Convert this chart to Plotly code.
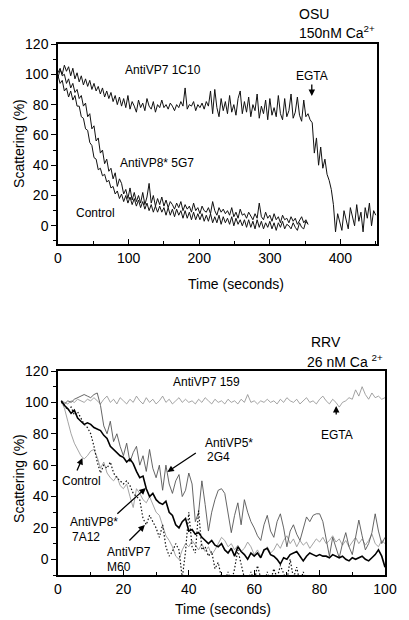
import plotly.graph_objects as go

# ---------------- DATA ----------------
# Top panel (OSU, 150 nM Ca2+): sampled every 3 s
osu_t_1c10 = list(range(0, 451, 3))
osu_1c10 = [98, 103, 100, 106, 102, 105, 99, 104, 97, 101,
            95, 99, 93, 97, 92, 96, 90, 94, 89, 92,
            87, 91, 85, 89, 84, 88, 82, 86, 80, 85,
            79, 84, 78, 86, 77, 82, 79, 75, 83, 78,
            81, 76, 84, 79, 77, 82, 75, 80, 78, 83,
            78, 80, 77, 81, 79, 76, 80, 78, 82, 79,
            91, 77, 80, 79, 82, 76, 80, 78, 81, 77,
            82, 79, 89, 74, 90, 78, 72, 84, 76, 82,
            74, 86, 75, 80, 73, 84, 89, 74, 82, 75,
            85, 72, 80, 76, 87, 71, 79, 74, 83, 70,
            84, 73, 78, 72, 86, 74, 70, 84, 72, 76,
            87, 71, 75, 85, 73, 69, 83, 72, 74, 70,
            68, 48, 58, 40, 52, 38, 44, 34, 30, 24,
            14, -4, 8, 2, -3, 10, 4, -2, 12, 6,
            0, 14, 3, 9, -4, 12, 5, 15, 0, 10,
            7]
osu_t_short = list(range(0, 355, 3))
osu_5g7 = [101, 104, 99, 100, 94, 97, 91, 94, 88, 90,
           84, 86, 79, 81, 72, 74, 64, 66, 56, 58,
           48, 50, 41, 44, 36, 38, 31, 35, 26, 31,
           28, 21, 24, 18, 25, 17, 22, 16, 20, 15,
           22, 14, 19, 28, 15, 20, 13, 18, 14, 19,
           13, 17, 12, 16, 14, 11, 15, 12, 16, 10,
           14, 11, 13, 9, 15, 10, 12, 8, 13, 10,
           9, 12, 8, 16, 10, 7, 12, 9, 11, 8,
           10, 7, 12, 6, 9, 5, 11, 7, 8, 5,
           9, 6, 4, 8, 5, 15, 6, 4, 9, 5,
           7, 3, 8, 4, 6, 2, 7, 4, 5, 2,
           6, 3, 5, 1, 4, 6, 2, 4, 1]
osu_control = [99, 94, 96, 89, 91, 85, 89, 83, 86, 79,
               79, 72, 71, 64, 63, 55, 53, 45, 44, 37,
               38, 33, 34, 29, 30, 25, 26, 21, 23, 18,
               21, 16, 20, 15, 19, 14, 18, 13, 17, 12,
               16, 11, 15, 10, 14, 9, 13, 9, 13, 9,
               12, 7, 12, 7, 11, 6, 11, 7, 10, 5,
               10, 5, 9, 4, 9, 4, 8, 4, 8, 3,
               7, 3, 8, 2, 6, 2, 7, 1, 6, 2,
               5, 1, 6, 0, 5, 1, 4, 0, 4, -1,
               4, -1, 3, -2, 4, -1, 3, -2, 2, -1,
               3, -2, 2, -3, 2, -1, 3, -2, 1, 0,
               -2, 2, -1, -3, 2, -1, -2, 3, 1]

# Bottom panel (RRV, 26 nM Ca2+): sampled every 1 s
rrv_t = list(range(1, 101))
rrv_159 = [101, 100, 99, 101, 100, 102, 101, 100, 102, 101,
           103, 101, 99, 102, 104, 100, 102, 99, 103, 101,
           99, 102, 100, 104, 101, 99, 103, 100, 102, 99,
           101, 104, 100, 102, 99, 101, 103, 100, 102, 100,
           101, 99, 102, 100, 103, 101, 99, 102, 100, 101,
           99, 102, 100, 101, 99, 102, 100, 105, 100, 101,
           99, 101, 100, 102, 100, 101, 99, 102, 100, 103,
           101, 100, 102, 99, 101, 103, 100, 101, 99, 102,
           104, 101, 99, 102, 100, 97, 100, 101, 103, 102,
           108, 104, 110, 105, 102, 106, 103, 104, 102, 103]
rrv_2g4 = [100, 99, 101, 100, 102, 103, 104, 105, 104, 103,
           105, 106, 98, 85, 80, 88, 75, 80, 72, 66,
           74, 62, 68, 72, 60, 66, 56, 70, 58, 52,
           60, 44, 60, 48, 42, 50, 54, 40, 44, 55,
           48, 24, 30, 50, 35, 18, 30, 38, 44, 45,
           42, 30, 17, 28, 36, 22, 38, 30, 24, 20,
           15, 12, 22, 28, 18, 14, 24, 29, 20, 8,
           18, 22, 16, 12, 20, 27, 24, 28, 29, 29,
           24, 12, 2, 14, 8, 1, 10, 17, 8, 3,
           14, 25, 15, 6, 10, 17, 29, 18, 10, 14]
rrv_7a12 = [101, 98, 96, 93, 95, 90, 88, 86, 87, 86,
            84, 83, 82, 79, 77, 72, 70, 68, 66, 65,
            62, 64, 61, 56, 52, 53, 45, 40, 42, 38,
            36, 35, 37, 30, 28, 22, 20, 24, 26, 18,
            19, 16, 17, 14, 12, 10, 12, 9, 8, 10,
            6, 4, 7, 2, 8, 5, 3, 0, 4, 2,
            4, 1, 6, 7, 3, 2, 0, -3, 1, 0,
            3, 4, 5, 2, -1, 2, 4, 3, 2, 3,
            2, 2, 1, 3, 2, 1, 2, 0, -1, 1,
            0, 1, 2, 0, -1, 1, 3, 6, 2, -5]
rrv_m60 = [100, 98, 95, 97, 92, 94, 90, 86, 84, 80,
           72, 62, 55, 60, 58, 62, 55, 52, 50, 48,
           50, 47, 42, 40, 38, 26, 22, 28, 24, 20,
           14, 22, 8, 2, 5, 10, 6, -12, 5, 30,
           8, 4, 31, 6, 8, 2, 5, -6, -2, -12,
           -14, -8, -15, -6, 6, -2, -12, -15, -8, -14,
           -4, -12, -16, -8, -14, -6, -12, -4, -9, -14,
           0, -12, -5, -15, -8, -14, -18, -18, -18, -18,
           -18, -18, -18, -18, -18, -18, -18, -18, -18, -18,
           -18, -18, -18, -18, -18, -18, -18, -18, -18, -18]
rrv_control = [101, 96, 88, 80, 74, 70, 66, 64, 66, 69,
               70, 65, 58, 62, 55, 52, 50, 53, 47, 45,
               48, 40, 33, 45, 42, 38, 36, 40, 35, 30,
               28, 22, 15, 12, 8, 2, 0, 6, 10, 8,
               12, 9, 6, 10, 5, 8, 3, 6, 10, 14,
               12, 8, 10, 6, 9, 5, 7, 11, 8, 3,
               6, 2, 5, 8, 4, 6, 10, 7, 12, 15,
               10, 13, 8, 12, 9, 11, 7, 10, 13, 11,
               14, 10, 12, 15, 11, 13, 9, 12, 8, 11,
               14, 10, 13, 9, 12, 16, 10, 8, 12, 10]

# ---------------- FIGURE ----------------
FONT = "Arial, Liberation Sans, Helvetica, sans-serif"
L, R, T, B = 58, 393, 44, 575
W, H = 409, 620


def P(px, py):
    return (px - L) / (R - L), (B - py) / (B - T)


fig = go.Figure()

for y in (osu_control, osu_5g7):
    fig.add_trace(go.Scatter(x=osu_t_short, y=y, mode="lines",
                             line=dict(color="#111", width=1),
                             xaxis="x", yaxis="y", showlegend=False))
fig.add_trace(go.Scatter(x=osu_t_1c10, y=osu_1c10, mode="lines",
                         line=dict(color="#111", width=1),
                         xaxis="x", yaxis="y", showlegend=False))

fig.add_trace(go.Scatter(x=rrv_t, y=rrv_159, mode="lines",
                         line=dict(color="#8c8c8c", width=0.8),
                         xaxis="x2", yaxis="y2", showlegend=False))
fig.add_trace(go.Scatter(x=rrv_t, y=rrv_control, mode="lines",
                         line=dict(color="#9a9a9a", width=0.9),
                         xaxis="x2", yaxis="y2", showlegend=False))
fig.add_trace(go.Scatter(x=rrv_t, y=rrv_2g4, mode="lines",
                         line=dict(color="#555", width=0.9),
                         xaxis="x2", yaxis="y2", showlegend=False))
fig.add_trace(go.Scatter(x=rrv_t, y=rrv_m60, mode="lines",
                         line=dict(color="#111", width=1.2, dash="1.5px,2px"),
                         xaxis="x2", yaxis="y2", showlegend=False))
fig.add_trace(go.Scatter(x=rrv_t, y=rrv_7a12, mode="lines",
                         line=dict(color="#000", width=1.6),
                         xaxis="x2", yaxis="y2", showlegend=False))

axis_common = dict(showline=True, linecolor="black", linewidth=1.5, mirror=True,
                   showgrid=False, zeroline=False,
                   tickfont=dict(family=FONT, size=14, color="black"),
                   tickcolor="black", tickwidth=1.2, ticklen=5)

top_frac = (B - 244) / (B - T)
bot_frac = (B - 371) / (B - T)

fig.update_layout(
    width=W, height=H, autosize=False,
    margin=dict(l=L, r=W - R, t=T, b=H - B),
    paper_bgcolor="white", plot_bgcolor="white",
    font=dict(family=FONT, color="black"),
    xaxis=dict(domain=[0, (385 - L) / (R - L)], range=[0, 452], anchor="y",
               tick0=0, dtick=100, ticks="inside",
               minor=dict(dtick=50, ticks="inside", ticklen=3, tickcolor="black"),
               **axis_common),
    yaxis=dict(domain=[top_frac, 1], range=[-12, 120], anchor="x",
               tick0=0, dtick=20, ticks="outside",
               minor=dict(dtick=10, ticks="outside", ticklen=3, tickcolor="black"),
               **axis_common),
    xaxis2=dict(domain=[0, 1], range=[0, 100], anchor="y2",
                tick0=0, dtick=20, ticks="inside",
                minor=dict(dtick=10, ticks="inside", ticklen=3, tickcolor="black"),
                **axis_common),
    yaxis2=dict(domain=[0, bot_frac], range=[-10, 120], anchor="x2",
                tick0=0, dtick=20, ticks="outside",
                minor=dict(dtick=10, ticks="outside", ticklen=3, tickcolor="black"),
                **axis_common),
)


def label(text, px, py, size=12, xanchor="center", angle=0):
    x, y = P(px, py)
    fig.add_annotation(x=x, y=y, xref="paper", yref="paper", text=text,
                       showarrow=False, xanchor=xanchor, yanchor="middle",
                       textangle=angle,
                       font=dict(family=FONT, size=size, color="black"))


# panel headers
label("OSU", 303, 14, 14, "left")
label("150nM Ca<sup>2+</sup>", 303, 32, 14, "left")
label("RRV", 315, 342, 14, "left")
label("26 nM Ca <sup>2+</sup>", 311, 361, 14, "left")

# axis titles
label("Time (seconds)", 240, 284, 14)
label("Time (seconds)", 227, 609, 14)
label("Scattering (%)", 18, 143, 14, angle=-90)
label("Scattering (%)", 18, 478, 14, angle=-90)

# top panel labels
label("AntiVP7 1C10", 166, 70)
label("AntiVP8* 5G7", 159, 163)
label("Control", 96, 213)

# bottom panel labels
label("AntiVP7 159", 210, 382)
label("EGTA", 344, 435)
label("AntiVP5*", 207, 443, xanchor="left")
label("2G4", 209, 457, xanchor="left")
label("Control", 82, 481)
label("AntiVP8*", 95, 522)
label("7A12", 87, 537)
label("AntiVP7", 106, 552, xanchor="left")
label("M60", 106, 567, xanchor="left")


def arrow(head_px, head_py, tail_px, tail_py, text="", size=12):
    x, y = P(head_px, head_py)
    fig.add_annotation(x=x, y=y, xref="paper", yref="paper", text=text,
                       showarrow=True, arrowhead=2, arrowsize=1, arrowwidth=1.3,
                       arrowcolor="black", standoff=0, startstandoff=0,
                       ax=tail_px - head_px, ay=tail_py - head_py,
                       font=dict(family=FONT, size=size, color="black"))


# top EGTA label with arrow
arrow(318, 96, 318, 76, "EGTA")
# bottom arrows
arrow(343, 406, 343, 416)
arrow(170, 472, 200, 452)
arrow(83, 458, 77, 472)
arrow(148, 488, 118, 515)
arrow(147, 525, 130, 542)

fig.write_html("out.html",
               config={"displayModeBar": False},
               post_script="document.body.style.margin='0';document.body.style.overflow='hidden';")
